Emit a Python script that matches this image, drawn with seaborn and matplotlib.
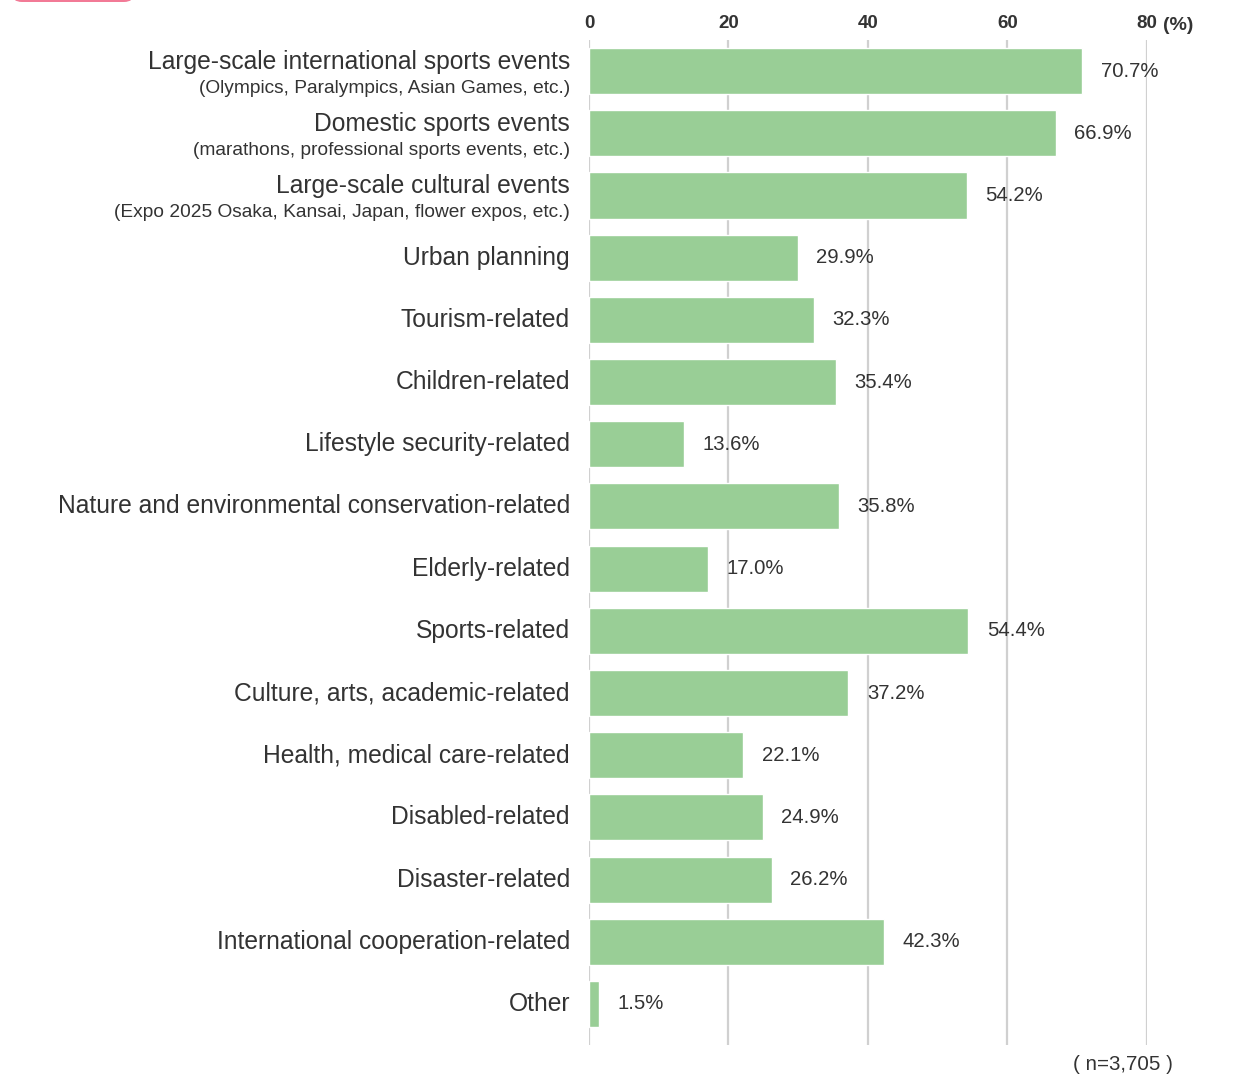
import matplotlib
matplotlib.use("Agg")
import matplotlib.pyplot as plt
import seaborn as sns
import pandas as pd
from matplotlib.patches import FancyBboxPatch
from matplotlib import transforms

sns.set_theme(style="white")
plt.rcParams["font.family"] = ["Liberation Sans", "DejaVu Sans"]

categories = [
    "Large-scale international sports events",
    "Domestic sports events",
    "Large-scale cultural events",
    "Urban planning",
    "Tourism-related",
    "Children-related",
    "Lifestyle security-related",
    "Nature and environmental conservation-related",
    "Elderly-related",
    "Sports-related",
    "Culture, arts, academic-related",
    "Health, medical care-related",
    "Disabled-related",
    "Disaster-related",
    "International cooperation-related",
    "Other",
]
subtitles = [
    "(Olympics, Paralympics, Asian Games, etc.)",
    "(marathons, professional sports events, etc.)",
    "(Expo 2025 Osaka, Kansai, Japan, flower expos, etc.)",
] + [""] * 13
values = [70.7, 66.9, 54.2, 29.9, 32.3, 35.4, 13.6, 35.8, 17.0, 54.4,
          37.2, 22.1, 24.9, 26.2, 42.3, 1.5]
x_ticks = [0, 20, 40, 60, 80]

TEXT = "#333333"
BAR = "#99ce96"
GRID = "#d0d0d0"

df = pd.DataFrame({"category": categories, "value": values})

fig = plt.figure(figsize=(12.55, 10.79), dpi=100)
ax = fig.add_axes([0.4693, 0.0315, 0.4446, 0.9314])

sns.barplot(data=df, x="value", y="category", orient="h", color=BAR,
            width=0.74, saturation=1, ax=ax, zorder=3)

ax.set_xlim(0, 80)
ax.set_ylim(15.66, -0.5)
for s in ax.spines.values():
    s.set_visible(False)
ax.set_xlabel("")
ax.set_ylabel("")
ax.set_yticks([])

# vertical grid lines
for t in x_ticks:
    ax.axvline(t, color=GRID, linewidth=1.6, zorder=1)

ax.xaxis.tick_top()
ax.set_xticks(x_ticks)
ax.set_xticklabels([str(t) for t in x_ticks], fontsize=13.5,
                   fontweight="bold", color=TEXT)
ax.tick_params(axis="x", length=0, pad=6)

# unit mark right after the last tick value
unit_off = transforms.ScaledTranslation(0.16, 0.06, fig.dpi_scale_trans)
ax.text(80, -0.5, "(%)", transform=ax.transData + unit_off, fontsize=14,
        fontweight="bold", color=TEXT, ha="left", va="bottom", clip_on=False)

# category labels
for i, (cat, sub) in enumerate(zip(categories, subtitles)):
    if sub:
        off_main = transforms.ScaledTranslation(-0.19, 0.095, fig.dpi_scale_trans)
        off_sub = transforms.ScaledTranslation(-0.19, -0.17, fig.dpi_scale_trans)
        ax.text(0, i, cat, transform=ax.transData + off_main, ha="right",
                va="center", fontsize=17.7, color=TEXT, clip_on=False)
        ax.text(0, i, sub, transform=ax.transData + off_sub, ha="right",
                va="center", fontsize=13.8, color=TEXT, clip_on=False)
    else:
        off = transforms.ScaledTranslation(-0.19, 0, fig.dpi_scale_trans)
        ax.text(0, i, cat, transform=ax.transData + off, ha="right",
                va="center", fontsize=17.7, color=TEXT, clip_on=False)

# value labels
for i, v in enumerate(values):
    off = transforms.ScaledTranslation(0.185, 0, fig.dpi_scale_trans)
    ax.text(v, i, f"{v:.1f}%", transform=ax.transData + off, ha="left",
            va="center", fontsize=14.6, color=TEXT, clip_on=False)

fig.text(1173 / 1255, 1 - 1064 / 1079, "( n=3,705 )", ha="right", va="center",
         fontsize=14.8, color=TEXT)

# pink tab at the top-left corner
tab = FancyBboxPatch((12 / 1255, 1 - 2 / 1079), 122 / 1255, 0.03,
                     boxstyle="round,pad=0,rounding_size=0.008",
                     transform=fig.transFigure, facecolor="#f27a96",
                     edgecolor="none", clip_on=False)
fig.patches.append(tab)

fig.savefig("out.png", dpi=100)
